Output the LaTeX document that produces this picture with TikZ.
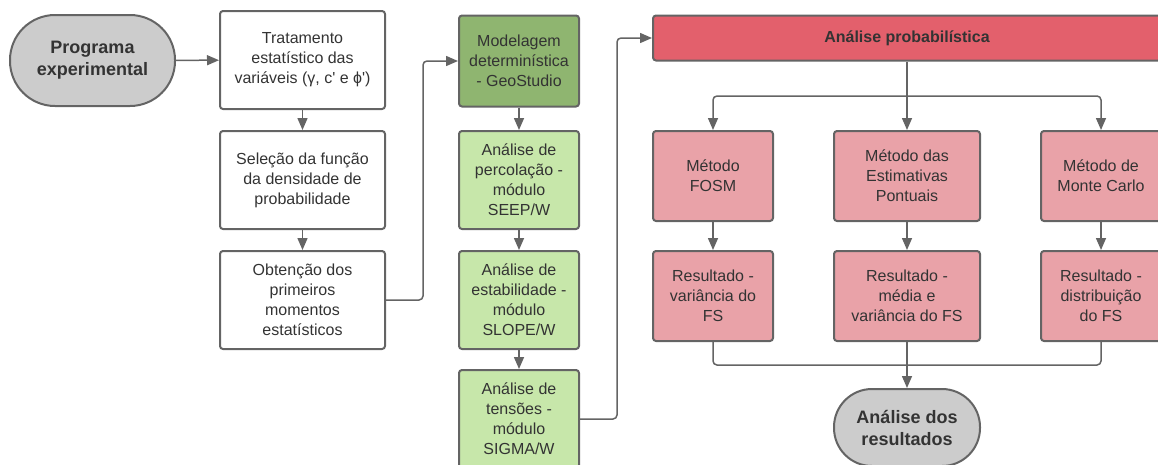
\documentclass[tikz,border=0pt]{standalone}
\usepackage{fontspec}
\setmainfont{Liberation Sans}[Ligatures=TeXOff]
\usetikzlibrary{arrows.meta}

\definecolor{linegray}{RGB}{100,100,100}
\definecolor{txtgray}{RGB}{51,51,51}
\definecolor{termgray}{RGB}{204,204,204}
\definecolor{darkgreen}{RGB}{143,181,112}
\definecolor{lightgreen}{RGB}{199,231,170}
\definecolor{headred}{RGB}{227,96,108}
\definecolor{lightred}{RGB}{233,162,168}

\begin{document}
\begin{tikzpicture}[x=1pt,y=-1pt,
    box/.style={draw=linegray,line width=2pt,rounded corners=3pt,text=txtgray,align=center,
        font=\fontsize{16}{20}\selectfont,inner sep=0pt},
    terminal/.style={box,fill=termgray,font=\fontsize{18}{22}\selectfont\bfseries},
    flow/.style={draw=linegray,line width=1.5pt,rounded corners=4pt,-{Triangle[length=12pt,width=10pt]}},
    link/.style={draw=linegray,line width=1.5pt,rounded corners=4pt}]
        \useasboundingbox (0,0) rectangle (1158,464);

        % left column
        \node[terminal,rounded corners=45pt,minimum width=165,minimum height=91] (prog) at (92.5,60.5) {Programa\\experimental};
        \node[box,minimum width=165,minimum height=98] (trat) at (302.5,60) {Tratamento\\estatístico das\\variáveis (γ, c' e ϕ')};
        \node[box,minimum width=165,minimum height=98] (selec) at (302.5,180) {Seleção da função\\da densidade de\\probabilidade};
        \node[box,minimum width=165,minimum height=98] (obten) at (302.5,300) {Obtenção dos\\primeiros\\momentos\\estatísticos};

        % GeoStudio column
        \node[box,fill=darkgreen,minimum width=120,minimum height=91] (model) at (519,61) {Modelagem\\determinística\\- GeoStudio};
        \node[box,fill=lightgreen,minimum width=120,minimum height=98] (seep) at (519,180) {Análise de\\percolação -\\módulo\\SEEP/W};
        \node[box,fill=lightgreen,minimum width=120,minimum height=98] (slope) at (519,300) {Análise de\\estabilidade -\\módulo\\SLOPE/W};
        \node[box,fill=lightgreen,minimum width=120,minimum height=98] (sigma) at (519,419) {Análise de\\tensões -\\módulo\\SIGMA/W};

        % probabilistic analysis
        \node[box,fill=headred,minimum width=508,minimum height=45,font=\fontsize{16}{20}\selectfont\bfseries] (prob) at (907,38) {Análise probabilística};
        \node[box,fill=lightred,minimum width=120,minimum height=90] (fosm) at (713,176) {Método\\FOSM};
        \node[box,fill=lightred,minimum width=146,minimum height=90] (pont) at (907,176) {Método das\\Estimativas\\Pontuais};
        \node[box,fill=lightred,minimum width=120,minimum height=90] (monte) at (1101,176) {Método de\\Monte Carlo};
        \node[box,fill=lightred,minimum width=120,minimum height=90] (resfosm) at (713,296) {Resultado -\\variância do\\FS};
        \node[box,fill=lightred,minimum width=146,minimum height=90] (respont) at (907,296) {Resultado -\\média e\\variância do FS};
        \node[box,fill=lightred,minimum width=120,minimum height=90] (resmonte) at (1101,296) {Resultado -\\distribuição\\do FS};
        \node[terminal,rounded corners=38pt,minimum width=146,minimum height=77] (final) at (907,427.5) {Análise dos\\resultados};

        % connectors
        \draw[flow] (prog) -- (trat);
        \draw[flow] (trat) -- (selec);
        \draw[flow] (selec) -- (obten);
        \draw[flow] (obten.east) -- ++(37,0) |- (model.west);
        \draw[flow] (model) -- (seep);
        \draw[flow] (seep) -- (slope);
        \draw[flow] (slope) -- (sigma);
        \draw[flow] (sigma.east) -- ++(37,0) |- (prob.west);

        % split and join
        \coordinate (split) at (907,96);
        \coordinate (join) at (907,365);
        \draw[link] (prob.south) -- (split);
        \draw[flow] (split) -| (fosm.north);
        \draw[flow] (split) -- (pont.north);
        \draw[flow] (split) -| (monte.north);
        \draw[flow] (fosm) -- (resfosm);
        \draw[flow] (pont) -- (respont);
        \draw[flow] (monte) -- (resmonte);
        \draw[link] (resfosm.south) |- (join);
        \draw[link] (resmonte.south) |- (join);
        \draw[flow] (respont.south) -- (final.north);
    \end{tikzpicture}
\end{document}
